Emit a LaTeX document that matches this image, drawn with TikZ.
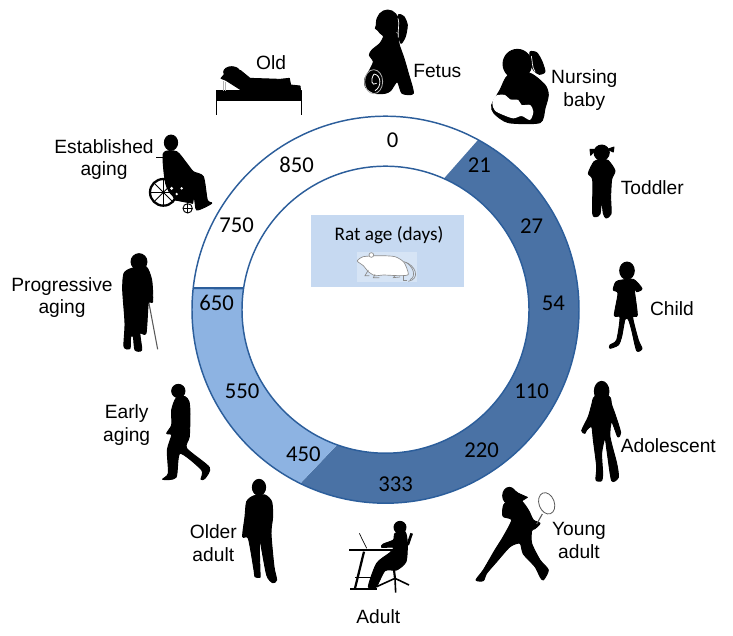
\documentclass[tikz,border=0pt]{standalone}
\usepackage{fontspec}
\setmainfont{Liberation Sans}
\newfontfamily\calibrifont{Carlito}
\definecolor{ringcolor}{RGB}{44,94,155}
\definecolor{youngcolor}{RGB}{74,114,165}
\definecolor{oldercolor}{RGB}{141,179,226}
\definecolor{boxcolor}{RGB}{198,217,241}
\definecolor{ratcolor}{RGB}{214,228,245}
\tikzset{
  %% stage : a life stage label next to a silhouette
  stage/.style={
    align=center,
    inner sep=0pt,
    font=\fontsize{14.4}{17.2}\selectfont
  },
  %% agelabel : a rat age in the ring
  agelabel/.style={
    inner sep=0pt,
    font=\calibrifont\fontsize{17}{18}\selectfont
  },
  %% segment : a part of the ring
  segment/.style={draw=none},
  %% crop : local coordinates for a silhouette, 3 units to a pixel
  crop/.style 2 args={shift={(#1,#2)}, x=0.25pt, y=-0.25pt},
  %% figure : black silhouette
  figure/.style={fill=black, draw=black, line width=0.7pt, line join=round},
  %% ratline : outline of the rat
  ratline/.style={draw=gray!90, line width=0.5pt},
  %% cane : thin grey stick or racket
  cane/.style={draw=gray!70!black, line width=0.8pt}
}
%% one smooth closed silhouette outline
\newcommand{\outline}[1]{%
  \fill[figure] plot[smooth cycle, tension=0.42] coordinates {#1};}

\begin{document}
\begin{tikzpicture}
  [x=0.75pt,
  y=-0.75pt]

  \useasboundingbox (0,0) rectangle (733,636);

  %% Ring
  \begin{scope}[shift={(385.5,309.7)}]
    \fill[youngcolor, segment] (-61.4:193.5) arc[start angle=-61.4, end angle=116.1, radius=193.5]
      -- (109.7:143.5) arc[start angle=109.7, end angle=-66, radius=143.5] -- cycle;
    \fill[oldercolor, segment] (116.1:193.5) arc[start angle=116.1, end angle=186.4, radius=193.5]
      -- (188.6:143.5) arc[start angle=188.6, end angle=109.7, radius=143.5] -- cycle;
    \draw[ringcolor, line width=1.1pt] (0,0) circle (193.5);
    \draw[ringcolor, line width=1.1pt] (0,0) circle (143.5);
    \draw[ringcolor, line width=1.6pt] (186.4:193.5) -- (188.6:143.5);
  \end{scope}

  %% Ages
  \foreach \px/\py/\age in {392.7/140.7/0, 296.7/165/850, 236.7/225.7/750,
    216.7/303/650, 479.3/165.5/21, 531.7/226/27, 553.3/303/54, 531.7/391.7/110,
    481.7/450/220, 395.7/484.3/333, 303.3/454.3/450, 242/391/550}
    \node (age\age) [agelabel] at (\px,\py) {\age};

  %% Centre box
  \fill[boxcolor] (311,215) rectangle (464,287);
  \node (ratage) [font=\calibrifont\fontsize{14.4}{16}\selectfont, inner sep=0pt] at (389,235) {Rat age (days)};
  \begin{scope}[crop={300}{205}]
    \fill[ratcolor] (170,140) rectangle (350,232);
    \draw[ratline, fill=white] plot[smooth cycle, tension=0.4] coordinates
      {(172,168) (190,155) (240,152) (285,155) (312,172) (325,208) (300,212) (250,210) (225,212) (205,200) (190,182)};
    \draw[ratline, fill=white] (214,150) circle (7);
    \draw[ratline] (312,170) .. controls (348,180) and (362,222) .. (325,229);
    \draw[ratline] (318,172) .. controls (340,185) and (350,215) .. (330,224);
    \draw[ratline] (205,195) -- (195,212) -- (208,212);
    \draw[ratline] (225,208) -- (220,218) -- (238,218);
    \draw[ratline] (285,212) -- (280,218) -- (300,216);
    \draw[ratline] (310,210) -- (310,225) -- (322,225);
  \end{scope}

  %% Stage labels
  \node (old) [stage] at (271,62.3) {Old};
  \node (fetus) [stage] at (437.3,71) {Fetus};
  \node (nursing) [stage] at (584.3,90) {Nursing\\baby};
  \node (toddler) [stage] at (652.3,187.3) {Toddler};
  \node (child) [stage] at (672,308.3) {Child};
  \node (adolescent) [stage] at (668.3,446) {Adolescent};
  \node (youngadult) [stage] at (579,540.5) {Young\\adult};
  \node (adult) [stage] at (378.3,616.7) {Adult};
  \node (olderadult) [stage] at (213.3,543) {Older\\adult};
  \node (earlyaging) [stage] at (126.7,424.7) {Early\\aging};
  \node (progressive) [stage] at (62,297.5) {Progressive\\aging};
  \node (established) [stage] at (104,159.5) {Established\\aging};

  %% Fetus
  \begin{scope}[crop={200}{0}]
    \fill[figure] (563,70) ellipse (34 and 40);
    \outline{(596,44) (612,50) (622,75) (616,110) (603,130) (594,100) (590,70)}
    \outline{(552,100) (590,100) (598,135) (612,175) (625,220) (640,280) (606,280) (592,245) (572,272)
      (555,280) (525,280) (497,262) (495,235) (508,212) (520,185) (508,165) (516,150) (540,130) (550,112)}
    \fill[figure] (530,72) -- (526,85) -- (540,96) -- (550,90) -- cycle;
    \draw[white, line width=0.5pt] (594,55) .. controls (600,70) and (592,95) .. (595,112);
    \draw[gray!60, line width=0.6pt] (521,245) ellipse (27 and 36);
    \draw[white, line width=0.6pt] (522,222) .. controls (545,225) and (545,262) .. (525,272);
    \draw[white, line width=0.6pt] (522,222) .. controls (510,240) and (515,260) .. (530,250);
  \end{scope}

  %% Old
  \begin{scope}[crop={200}{0}]
    \fill[figure] (48,272) rectangle (303,300);
    \draw[black, line width=0.9pt] (50,300) -- (50,346);
    \draw[black, line width=0.9pt] (304,300) -- (304,346);
    \fill[figure] (95,216) ellipse (24 and 16);
    \fill[figure] (63,235) -- (88,205) -- (122,212) -- (150,235) -- (240,238) -- (268,235) -- (272,255)
      -- (300,258) -- (302,274) -- (130,274) -- (78,241) -- cycle;
    \draw[gray!60, line width=0.6pt] (71,243) -- (71,272);
    \draw[gray!60, line width=0.6pt] (77,245) -- (77,272);
  \end{scope}

  %% Nursing baby
  \begin{scope}[crop={480}{40}]
    \fill[figure] (112,72) ellipse (43 and 44);
    \outline{(150,36) (170,38) (185,62) (195,95) (178,103) (162,92) (152,70)}
    \outline{(85,105) (150,100) (195,135) (205,165) (195,205) (180,248) (85,248) (42,220) (35,195) (60,150)}
    \draw[white, line width=0.5pt] (154,48) .. controls (158,65) and (155,80) .. (165,95);
    \fill[white] plot[smooth cycle, tension=0.5] coordinates
      {(37,190) (48,167) (75,165) (90,178) (115,180) (125,195) (150,195) (160,215) (150,240) (125,228) (100,235) (70,225) (45,212)};
  \end{scope}

  %% Toddler
  \begin{scope}[crop={480}{40}]
    \fill[figure] (365,338) circle (23);
    \fill[figure] (348,328) -- (330,328) -- (332,346) -- cycle;
    \fill[figure] (382,328) -- (402,321) -- (400,336) -- cycle;
    \outline{(342,365) (362,358) (385,362) (405,392) (395,418) (392,470) (393,522) (378,534) (370,520) (365,482)
      (360,522) (348,530) (338,520) (338,420) (325,400)}
  \end{scope}

  %% Child
  \begin{scope}[crop={480}{40}]
    \fill[figure] (441,692) ellipse (22 and 26);
    \outline{(415,722) (460,718) (486,746) (470,755) (462,742) (472,825) (458,832)
      (475,900) (486,926) (470,932) (455,870) (445,838) (435,838) (425,890) (415,915) (390,925) (390,915)
      (410,900) (420,832) (403,826) (414,760) (400,750) (405,730)}
  \end{scope}

  %% Adolescent
  \begin{scope}[crop={340}{370}]
    \fill[figure] (785,64) ellipse (22 and 30);
    \outline{(764,80) (808,80) (815,105) (826,135) (842,188) (833,200) (815,155) (810,200) (830,280) (835,322)
      (815,332) (802,250) (795,205) (785,250) (788,310) (785,332) (768,330) (770,290) (760,210) (755,170)
      (740,180) (735,190) (725,182) (745,140) (755,105)}
  \end{scope}

  %% Young adult
  \begin{scope}[crop={340}{370}]
    \fill[figure] (508,377) ellipse (20 and 25);
    \fill[figure] (515,355) -- (535,370) -- (562,382) -- (540,396) -- (515,395) -- cycle;
    \outline{(495,400) (540,390) (565,420) (580,450) (600,460) (585,476) (575,482)
      (575,520) (600,570) (625,600) (610,630) (600,620) (585,590) (550,552) (540,520) (510,530) (470,575)
      (440,610) (430,632) (408,630) (430,600) (465,540) (490,500) (515,450) (490,440) (488,420)}
    \draw[cane, line width=0.6pt, rotate around={20:(620,400)}] (620,400) ellipse (23 and 33);
    \draw[cane] (607,432) -- (590,462);
  \end{scope}

  %% Adult
  \begin{scope}[crop={340}{370}]
    \fill[figure] (180,472) circle (18);
    \outline{(165,490) (195,485) (202,520) (198,575) (170,600) (135,602) (108,652) (85,650) (110,580) (150,548)
      (160,532) (125,532) (130,522) (160,510)}
    \draw[black, line width=1.7pt] (28,540) -- (165,540);
    \draw[black, line width=1.7pt] (72,545) -- (45,655);
    \draw[black, line width=1.7pt] (30,657) -- (110,657);
    \draw[black, line width=1.2pt] (45,622) -- (95,622);
    \draw[black, line width=0.5pt] (58,490) -- (80,535);
    \draw[black, line width=2pt] (203,525) -- (215,490);
    \draw[black, line width=1.6pt] (162,600) -- (165,625);
    \draw[black, line width=1.2pt] (110,650) -- (165,625) -- (207,645);
    \draw[black, line width=1.2pt] (165,625) -- (167,668);
  \end{scope}

  %% Older adult
  \begin{scope}[crop={90}{370}]
    \fill[figure] (507,352) ellipse (20 and 24);
    \outline{(490,378) (525,375) (545,395) (548,440) (543,490) (552,590) (560,630) (548,638) (530,615) (510,510)
      (508,530) (510,605) (510,622) (495,620) (492,600) (475,505) (458,500) (465,440) (470,395)}
  \end{scope}

  %% Early aging
  \begin{scope}[crop={90}{370}]
    \fill[figure] (265,63) circle (20);
    \outline{(258,85) (285,80) (297,95) (300,130) (298,200) (290,235) (358,292) (345,325) (333,328)
      (335,300) (270,250) (258,322) (218,328) (235,310) (232,240) (245,195) (230,190) (245,165) (245,120)}
  \end{scope}

  %% Progressive aging
  \begin{scope}[crop={0}{120}]
    \fill[figure] (417,425) circle (24);
    \outline{(395,445) (438,440) (455,480) (458,545) (445,550) (438,640) (420,640)
      (425,690) (405,690) (400,650) (392,650) (390,685) (372,680) (375,610) (368,510) (372,460)}
    \draw[cane] (447,550) -- (473,688);
  \end{scope}

  %% Established aging
  \begin{scope}[crop={0}{120}]
    \fill[figure] (513,68) ellipse (20 and 23);
    \outline{(490,100) (530,95) (560,130) (580,155) (610,170) (622,240) (635,250) (590,270) (580,232) (520,228) (497,190)}
    \fill[figure] (500,190) -- (582,225) -- (578,250) -- (525,240) -- cycle;
    \draw[black, line width=1.7pt] (490,217) circle (40);
    \foreach \spoke in {0,45,...,315}
      \draw[black, line width=0.7pt] (490,217) -- ++(\spoke:41);
    \draw[black, line width=0.7pt] (563,265) circle (14);
    \draw[black, line width=0.4pt] (549,265) -- (577,265) (563,251) -- (563,279);
    \draw[black, line width=1.2pt] (468,113) -- (495,113);
    \fill[white] (515,205) circle (5) (545,205) circle (4) (530,222) circle (4);
  \end{scope}

\end{tikzpicture}
\end{document}
